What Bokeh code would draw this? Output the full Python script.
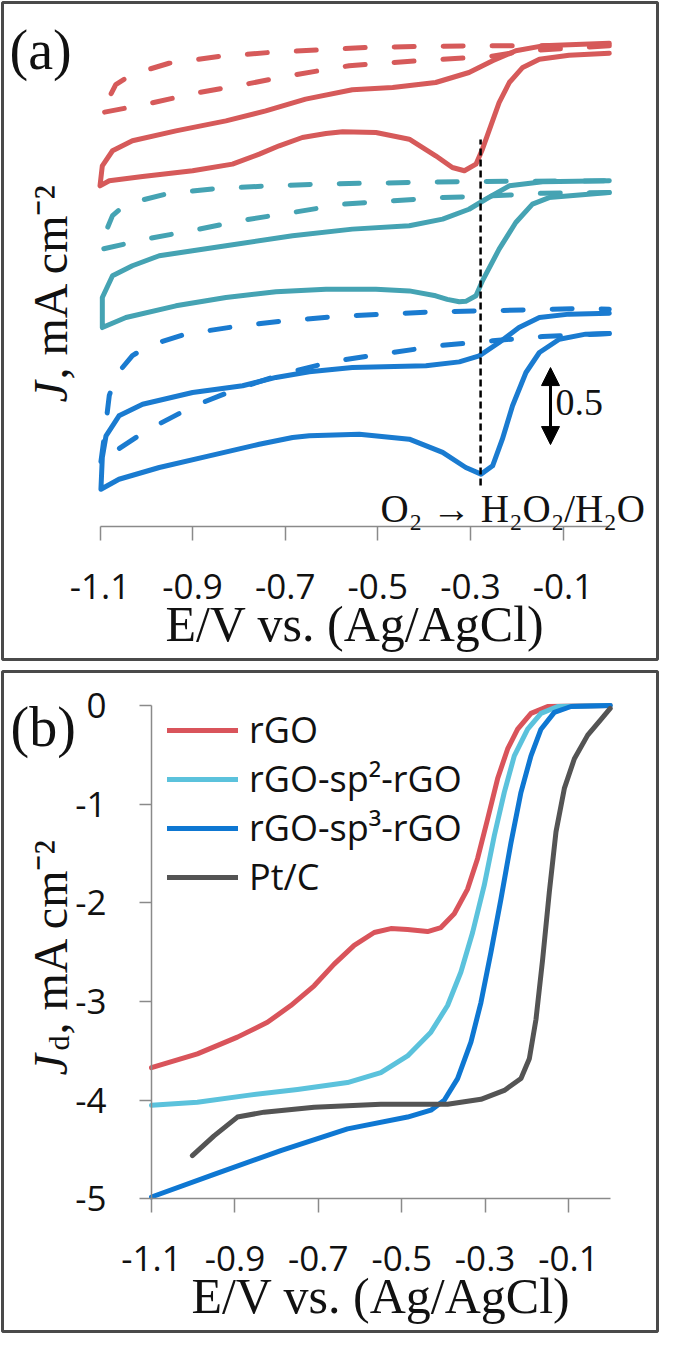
import math
from bokeh.plotting import figure
from bokeh.models import (Range1d, FixedTicker, PrintfTickFormatter, Label, Arrow,
                          NormalHead, Legend, LegendItem)
from bokeh.layouts import column
from bokeh.embed import file_html
from bokeh.resources import INLINE

# ---------------- data ----------------
x_ticks = [-1.1, -0.9, -0.7, -0.5, -0.3, -0.1]
x_bounds = (-1.1, 0.0)
b_y_ticks = [-5, -4, -3, -2, -1, 0]
b_y_bounds = (-5, 0)

# panel (a): CV loops (vertically offset), solid = O2, dashed = N2
a_rgo_o2_x = [0.000, -0.087, -0.151, -0.187, -0.216, -0.238, -0.256, -0.274, -0.288, -0.313, -0.339,
              -0.375, -0.432, -0.504, -0.576, -0.612, -0.663, -0.713, -0.756, -0.814, -0.900, -1.008,
              -1.080, -1.100, -1.095, -1.073, -1.030, -0.936, -0.828, -0.742, -0.656, -0.555, -0.468,
              -0.375, -0.303, -0.252, -0.202, -0.144, 0.000]
a_rgo_o2_y = [3.073, 3.060, 3.034, 2.981, 2.883, 2.753, 2.602, 2.450, 2.353, 2.310, 2.331,
              2.407, 2.515, 2.558, 2.563, 2.552, 2.526, 2.472, 2.418, 2.353, 2.310, 2.273,
              2.245, 2.212, 2.342, 2.440, 2.505, 2.569, 2.634, 2.699, 2.775, 2.836, 2.851,
              2.883, 2.948, 3.024, 3.089, 3.121, 3.138]
a_rgo_n2_x = [0.000, -0.180, -0.259, -0.360, -0.468, -0.562, -0.684, -0.785, -0.893, -1.001, -1.095,
              -1.100, -1.080, -1.066, -1.030, -0.951, -0.843, -0.735, -0.627, -0.526, -0.411, -0.303,
              -0.202, 0.000]
a_rgo_n2_y = [3.121, 3.089, 3.052, 3.034, 3.013, 2.992, 2.931, 2.872, 2.814, 2.742, 2.688,
              2.675, 2.786, 2.870, 2.937, 3.008, 3.052, 3.078, 3.095, 3.110, 3.117, 3.121,
              3.121, 3.125]

a_sp2_o2_x = [0.000, -0.130, -0.166, -0.202, -0.238, -0.274, -0.288, -0.310, -0.324, -0.350, -0.375,
              -0.432, -0.504, -0.612, -0.720, -0.828, -0.936, -1.044, -1.095, -1.095, -1.073, -1.030,
              -0.972, -0.828, -0.684, -0.555, -0.432, -0.360, -0.303, -0.267, -0.216, -0.144, 0.000]
a_sp2_o2_y = [2.169, 2.136, 2.093, 1.974, 1.801, 1.595, 1.498, 1.462, 1.459, 1.475, 1.498,
              1.530, 1.541, 1.541, 1.524, 1.487, 1.433, 1.357, 1.292, 1.487, 1.628, 1.693,
              1.758, 1.823, 1.888, 1.931, 1.953, 1.996, 2.060, 2.125, 2.212, 2.238, 2.245]
a_sp2_n2_x = [0.000, -0.144, -0.252, -0.360, -0.468, -0.576, -0.684, -0.785, -0.893, -1.001, -1.095,
              -1.100, -1.088, -1.073, -1.044, -0.951, -0.843, -0.735, -0.627, -0.526, -0.418, -0.310,
              0.000]
a_sp2_n2_y = [2.169, 2.164, 2.147, 2.136, 2.115, 2.093, 2.039, 1.992, 1.927, 1.866, 1.801,
              1.792, 1.909, 2.019, 2.093, 2.164, 2.195, 2.212, 2.223, 2.229, 2.234, 2.240,
              2.245]

a_sp3_o2_x = [0.000, -0.051, -0.108, -0.151, -0.180, -0.209, -0.231, -0.252, -0.277, -0.310, -0.360,
              -0.432, -0.540, -0.648, -0.684, -0.756, -0.864, -0.972, -1.059, -1.098, -1.095, -1.087,
              -1.059, -1.008, -0.900, -0.792, -0.720, -0.648, -0.555, -0.396, -0.324, -0.281, -0.238,
              -0.195, -0.151, -0.087, 0.000]
a_sp3_o2_y = [1.253, 1.249, 1.216, 1.130, 1.000, 0.784, 0.567, 0.394, 0.340, 0.383, 0.481,
              0.567, 0.599, 0.589, 0.578, 0.534, 0.459, 0.383, 0.307, 0.242, 0.450, 0.589,
              0.719, 0.794, 0.870, 0.914, 0.968, 1.005, 1.032, 1.044, 1.069, 1.108, 1.195,
              1.292, 1.357, 1.379, 1.385]
a_sp3_n2_x = [0.000, -0.144, -0.252, -0.360, -0.468, -0.598, -0.706, -0.807, -0.900, -1.001, -1.087,
              -1.099, -1.090, -1.080, -1.066, -1.030, -0.994, -0.915, -0.807, -0.699, -0.591, -0.483,
              -0.382, -0.267, -0.166, -0.058, 0.000]
a_sp3_n2_y = [1.253, 1.234, 1.206, 1.177, 1.130, 1.071, 0.990, 0.890, 0.779, 0.621, 0.450,
              0.400, 0.600, 0.850, 0.980, 1.110, 1.175, 1.249, 1.299, 1.336, 1.364, 1.379,
              1.394, 1.401, 1.407, 1.416, 1.411]

onset_x = [-0.278, -0.278]
onset_y = [0.266, 2.513]
scale_bar_x = -0.127
scale_bar_y = [0.532, 1.032]   # 0.5 mA cm-2

# panel (b): LSV curves
b_labels = ["rGO", "rGO-sp\u00b2-rGO", "rGO-sp\u00b3-rGO", "Pt/C"]
b_rgo_x = [-1.100, -0.990, -0.894, -0.822, -0.766, -0.710, -0.662, -0.614, -0.566, -0.526, -0.486,
           -0.438, -0.406, -0.374, -0.342, -0.318, -0.294, -0.270, -0.246, -0.222, -0.190, -0.150, 0.000]
b_rgo_y = [-3.67, -3.53, -3.36, -3.21, -3.04, -2.84, -2.62, -2.43, -2.30, -2.26, -2.27,
           -2.29, -2.25, -2.11, -1.86, -1.55, -1.15, -0.74, -0.44, -0.24, -0.08, -0.01, 0.0]
b_sp2_x = [-1.100, -0.990, -0.870, -0.750, -0.630, -0.550, -0.486, -0.430, -0.390, -0.358, -0.330,
           -0.302, -0.278, -0.254, -0.230, -0.198, -0.166, -0.126, 0.000]
b_sp2_y = [-4.05, -4.02, -3.95, -3.89, -3.82, -3.72, -3.55, -3.31, -3.04, -2.70, -2.30,
           -1.82, -1.32, -0.88, -0.51, -0.24, -0.08, -0.01, 0.0]
b_sp3_x = [-1.100, -0.950, -0.790, -0.630, -0.486, -0.430, -0.398, -0.366, -0.334, -0.310, -0.286,
           -0.262, -0.238, -0.214, -0.190, -0.166, -0.134, -0.094, 0.000]
b_sp3_y = [-4.98, -4.75, -4.51, -4.29, -4.17, -4.10, -4.00, -3.78, -3.41, -3.01, -2.50,
           -1.96, -1.39, -0.88, -0.51, -0.24, -0.07, -0.01, 0.0]
b_ptc_x = [-1.002, -0.950, -0.894, -0.830, -0.710, -0.550, -0.390, -0.310, -0.254, -0.214, -0.194,
           -0.178, -0.162, -0.146, -0.130, -0.110, -0.086, -0.054, -0.022, 0.000]
b_ptc_y = [-4.56, -4.36, -4.17, -4.12, -4.07, -4.04, -4.04, -3.99, -3.90, -3.78, -3.58,
           -3.18, -2.57, -1.89, -1.28, -0.84, -0.54, -0.30, -0.14, -0.03]

# ---------------- styles ----------------
A_RED, A_TEAL, A_BLUE = "#d65a5a", "#45a3b3", "#1a7bd0"
B_COLORS = ["#d9545b", "#5bc2dc", "#0e77d2", "#545454"]
SERIF = "Liberation Serif"
SANS = "Open Sans"
AXIS_GRAY = "#8a8a8a"
TXT = "#111111"
BOX_COLOR = "#4a4a4a"


def style_axis(ax, ticks, fmt, bounds, loc, tick_out, standoff, size="35px"):
    ax.fixed_location = loc
    ax.bounds = bounds
    ax.ticker = FixedTicker(ticks=ticks)
    ax.formatter = PrintfTickFormatter(format=fmt)
    ax.major_tick_out = tick_out
    ax.major_tick_in = 0
    ax.minor_tick_line_color = None
    ax.axis_line_color = AXIS_GRAY
    ax.axis_line_width = 1.5
    ax.major_tick_line_color = AXIS_GRAY
    ax.major_tick_line_width = 1.5
    ax.major_label_text_font = SANS
    ax.major_label_text_font_size = size
    ax.major_label_text_color = TXT
    ax.major_label_standoff = standoff


def style_xtitle(ax):
    ax.axis_label = "E/V vs. (Ag/AgCl)"
    ax.axis_label_text_font = SERIF
    ax.axis_label_text_font_size = "50px"
    ax.axis_label_text_font_style = "normal"
    ax.axis_label_text_color = TXT
    ax.axis_label_standoff = -6


def label(p, x, y, text, size, **kw):
    kw.setdefault("text_baseline", "alphabetic")
    p.add_layout(Label(x=x, y=y, text=text, text_font=kw.pop("font", SERIF),
                       text_font_size=size, text_color=TXT, **kw))


def panel(height, xr, yr):
    p = figure(width=659, height=height, x_range=Range1d(*xr), y_range=Range1d(*yr),
               output_backend="svg", toolbar_location=None, frame_align=False, min_border=2)
    p.grid.visible = False
    p.outline_line_color = BOX_COLOR
    p.outline_line_width = 3
    p.background_fill_color = "white"
    return p


# ---------------- panel (a) ----------------
pa = panel(661, (-1.3106, 0.1041), (-0.8636, 3.4026))
pa.yaxis.visible = False
style_axis(pa.xaxis[0], x_ticks, "%.1f", x_bounds, 0.0, 14, 33)
style_xtitle(pa.xaxis[0])

dash = "20 29"
for xs, ys, c in [(a_rgo_n2_x, a_rgo_n2_y, A_RED), (a_sp2_n2_x, a_sp2_n2_y, A_TEAL),
                  (a_sp3_n2_x, a_sp3_n2_y, A_BLUE)]:
    pa.line(xs, ys, line_color=c, line_width=5, line_dash=dash, line_cap="round", line_join="round")
for xs, ys, c in [(a_rgo_o2_x, a_rgo_o2_y, A_RED), (a_sp2_o2_x, a_sp2_o2_y, A_TEAL),
                  (a_sp3_o2_x, a_sp3_o2_y, A_BLUE)]:
    pa.line(xs, ys, line_color=c, line_width=5, line_cap="round", line_join="round")

pa.line(onset_x, onset_y, line_color="black", line_width=2.5, line_dash="7 4")
pa.add_layout(Arrow(x_start=scale_bar_x, y_start=scale_bar_y[0], x_end=scale_bar_x, y_end=scale_bar_y[1],
                    line_width=3, line_color="black",
                    start=NormalHead(size=18, fill_color="black", line_color="black"),
                    end=NormalHead(size=18, fill_color="black", line_color="black")))
label(pa, -0.1162, 0.8052, "0.5", "38px", text_baseline="middle")
label(pa, -0.4942, 0.117, "O\u2082 \u2192 H\u2082O\u2082/H\u2082O", "39px")
label(pa, -1.2955, 3.091, "(a)", "56px")
label(pa, -1.2069, 0.8052, "J", "48px", angle=math.pi / 2, text_font_style="italic")
label(pa, -1.2069, 0.9545, ", mA cm\u207b\u00b2", "48px", angle=math.pi / 2)

# ---------------- panel (b) ----------------
pb = panel(664, (-1.4573, 0.1134), (-6.3425, 0.3445))
style_axis(pb.xaxis[0], x_ticks, "%.1f", x_bounds, -5.0, 14, 33)
style_xtitle(pb.xaxis[0])
style_axis(pb.yaxis[0], b_y_ticks, "%d", b_y_bounds, -1.1, 12, 33)

items = []
for lab, xs, ys, c in zip(b_labels, [b_rgo_x, b_sp2_x, b_sp3_x, b_ptc_x],
                          [b_rgo_y, b_sp2_y, b_sp3_y, b_ptc_y], B_COLORS):
    r = pb.line(xs, ys, line_color=c, line_width=5, line_cap="round", line_join="round")
    items.append(LegendItem(label=lab, renderers=[r]))
# legend offset is in pixels from the frame's bottom-left corner
leg = Legend(items=items, location=(165, 430), glyph_width=71, glyph_height=40, spacing=0,
             label_standoff=11, padding=0, margin=0, border_line_color=None,
             background_fill_alpha=0, label_text_font=SANS, label_text_font_size="36px",
             label_text_color=TXT)
pb.add_layout(leg)

label(pb, -1.4381, -0.213, "(b)", "56px")
label(pb, -1.3422, -3.7487, "J", "48px", angle=math.pi / 2, text_font_style="italic")
label(pb, -1.3230, -3.4954, "d", "30px", angle=math.pi / 2)
label(pb, -1.3422, -3.3333, ", mA cm\u207b\u00b2", "48px", angle=math.pi / 2)

layout = column(pa, pb, spacing=8)
open("out.html", "w").write(file_html(layout, INLINE))
